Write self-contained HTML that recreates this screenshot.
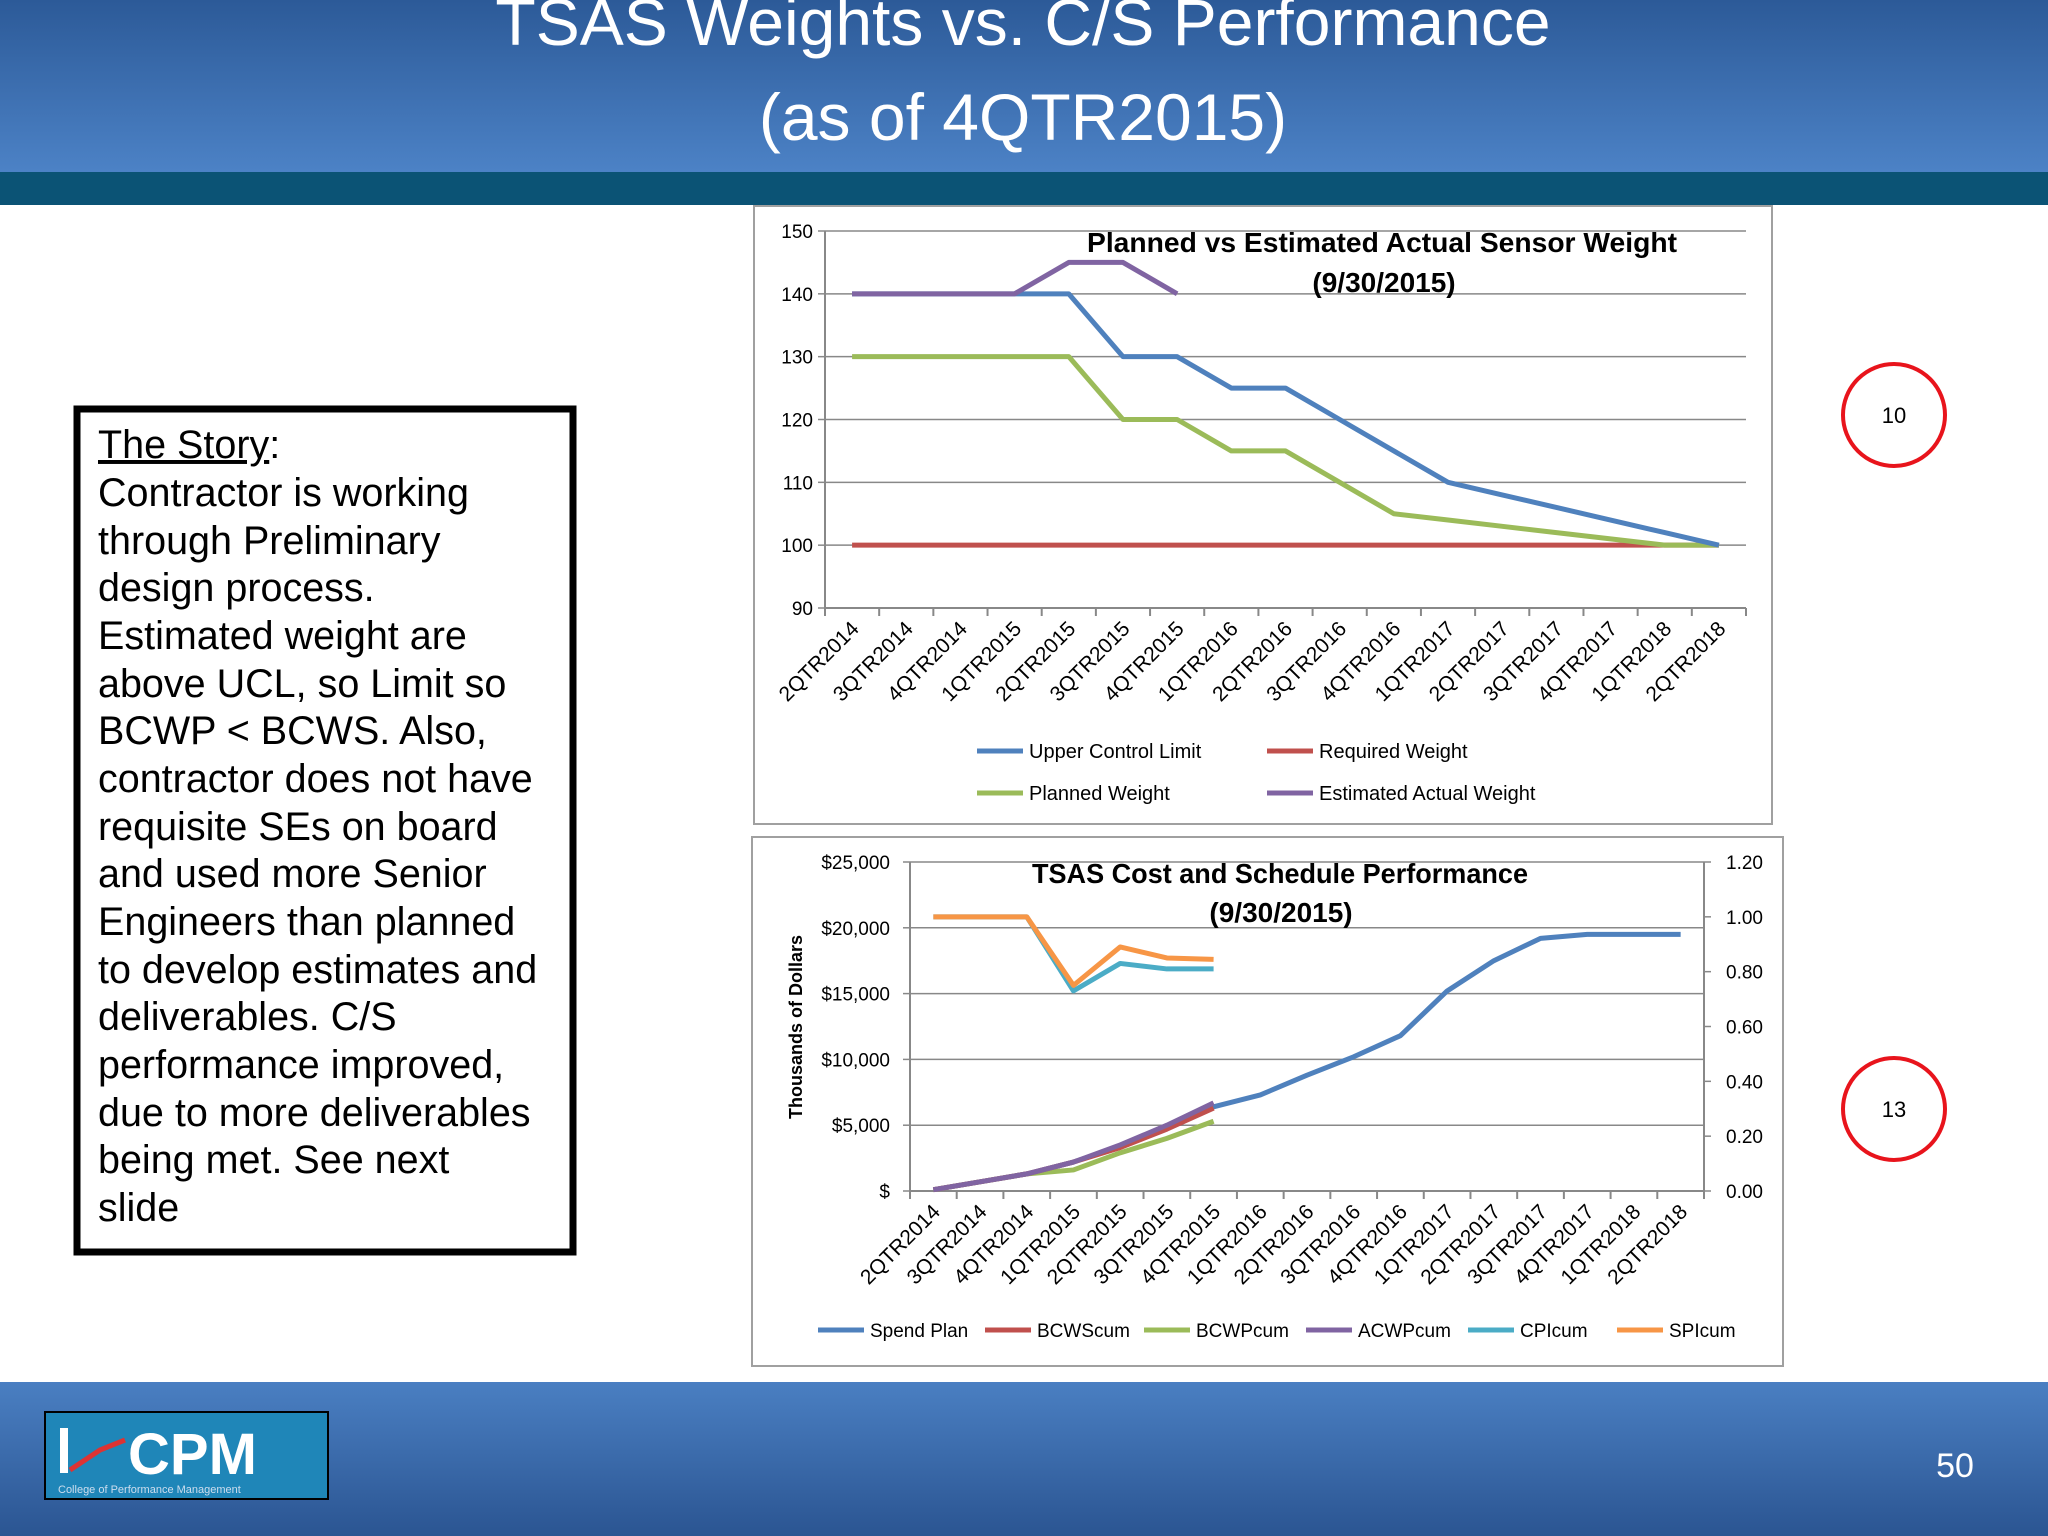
<!DOCTYPE html>
<html><head><meta charset="utf-8"><style>
html,body{margin:0;padding:0;width:2048px;height:1536px;overflow:hidden;background:#fff;font-family:"Liberation Sans",sans-serif}
svg text{font-family:"Liberation Sans",sans-serif}
</style></head><body>
<svg id="s" width="2048" height="1536" viewBox="0 0 2048 1536" xmlns="http://www.w3.org/2000/svg">
<defs>
<linearGradient id="hg" x1="0" y1="0" x2="0" y2="1"><stop offset="0" stop-color="#2c5a98"/><stop offset="1" stop-color="#4c82c6"/></linearGradient>
<linearGradient id="fg" x1="0" y1="0" x2="0" y2="1"><stop offset="0" stop-color="#4a7fc2"/><stop offset="1" stop-color="#2b5592"/></linearGradient>
</defs>
<rect x="0" y="0" width="2048" height="172" fill="url(#hg)"/>
<rect x="0" y="172" width="2048" height="33" fill="#0b5375"/>
<text x="1023" y="45" font-size="66" fill="#fff" text-anchor="middle">TSAS Weights vs. C/S Performance</text>
<text x="1023" y="140" font-size="66" fill="#fff" text-anchor="middle">(as of 4QTR2015)</text>

<rect x="77" y="409" width="496" height="843" fill="#fff" stroke="#000" stroke-width="7"/>
<g font-size="39.5" fill="#000">
<text x="98" y="458"><tspan text-decoration="underline">The Story</tspan>:</text>
<text x="98" y="506">Contractor is working</text>
<text x="98" y="554">through Preliminary</text>
<text x="98" y="601">design process.</text>
<text x="98" y="649">Estimated weight are</text>
<text x="98" y="697">above UCL, so Limit so</text>
<text x="98" y="744">BCWP &lt; BCWS. Also,</text>
<text x="98" y="792">contractor does not have</text>
<text x="98" y="840">requisite SEs on board</text>
<text x="98" y="887">and used more Senior</text>
<text x="98" y="935">Engineers than planned</text>
<text x="98" y="983">to develop estimates and</text>
<text x="98" y="1030">deliverables. C/S</text>
<text x="98" y="1078">performance improved,</text>
<text x="98" y="1126">due to more deliverables</text>
<text x="98" y="1173">being met.  See next</text>
<text x="98" y="1221">slide</text>
</g>

<circle cx="1894" cy="415" r="51" fill="#fff" stroke="#e8141c" stroke-width="4"/>
<text x="1894" y="423" font-size="22" text-anchor="middle">10</text>
<circle cx="1894" cy="1109" r="51" fill="#fff" stroke="#e8141c" stroke-width="4"/>
<text x="1894" y="1117" font-size="22" text-anchor="middle">13</text>

<rect x="0" y="1382" width="2048" height="154" fill="url(#fg)"/>
<g>
<rect x="45" y="1412" width="283" height="87" fill="#1f86b8" stroke="#000" stroke-width="2"/>
<rect x="60" y="1428" width="8" height="45" fill="#fff"/>
<path d="M70 1470 L100 1450 L125 1440" stroke="#d33" stroke-width="5" fill="none"/>
<text x="128" y="1474" font-size="58" font-weight="bold" fill="#fff">CPM</text>
<text x="58" y="1493" font-size="11" fill="#cde">College of Performance Management</text>
</g>
<text x="1955" y="1477" font-size="34" fill="#fff" text-anchor="middle">50</text>

<g id="c1"></g>
<g id="c2"></g>
</svg>
<script>
const cats=["2QTR2014","3QTR2014","4QTR2014","1QTR2015","2QTR2015","3QTR2015","4QTR2015","1QTR2016","2QTR2016","3QTR2016","4QTR2016","1QTR2017","2QTR2017","3QTR2017","4QTR2017","1QTR2018","2QTR2018"];
const ucl=[140,140,140,140,140,130,130,125,125,120,115,110,108,106,104,102,100];
const planned=[130,130,130,130,130,120,120,115,115,110,105,104,103,102,101,100,100];
const required=[100,100,100,100,100,100,100,100,100,100,100,100,100,100,100,100,100];
const estActual=[140,140,140,140,145,145,140];
const wTicks=[90,100,110,120,130,140,150];
const spend=[100,700,1300,2200,3400,4900,6400,7300,8800,10200,11800,15200,17500,19200,19500,19500,19500];
const bcws=[100,700,1300,2200,3300,4700,6300];
const bcwp=[100,700,1300,1600,2900,4000,5300];
const acwp=[100,700,1300,2200,3500,5000,6700];
const cpi=[1.0,1.0,1.0,0.73,0.83,0.81,0.81];
const spi=[1.0,1.0,1.0,0.75,0.89,0.85,0.845];
const dTicks=[0,5000,10000,15000,20000,25000];
const dLabels=["$","$5,000","$10,000","$15,000","$20,000","$25,000"];
const rTicks=[0,0.2,0.4,0.6,0.8,1.0,1.2];

const NS="http://www.w3.org/2000/svg";
function mk(p,t,a){const e=document.createElementNS(NS,t);for(const k in a)e.setAttribute(k,a[k]);p.appendChild(e);return e;}
function chart(g,box,pl,yMin,yMax){
  mk(g,'rect',{x:box[0],y:box[1],width:box[2],height:box[3],fill:'#fff',stroke:'#a0a0a0','stroke-width':2});
  const bw=(pl.r-pl.l)/cats.length;
  return {x:i=>pl.l+bw*(i+0.5),y:v=>pl.b-(v-yMin)/(yMax-yMin)*(pl.b-pl.t),bw};
}
function line(g,vals,xf,yf,col,name){
  const p=mk(g,'polyline',{points:vals.map((v,i)=>xf(i)+','+yf(v)).join(' '),fill:'none',stroke:col,'stroke-width':5,'stroke-linejoin':'round'});
  
  
}
function catAxis(g,pl,xf,bw,fs){
  mk(g,'line',{x1:pl.l,y1:pl.b,x2:pl.r,y2:pl.b,stroke:'#888','stroke-width':2});
  for(let i=0;i<=cats.length;i++){const x=pl.l+bw*i;mk(g,'line',{x1:x,y1:pl.b,x2:x,y2:pl.b+8,stroke:'#888','stroke-width':2});}
  cats.forEach((c,i)=>{const x=xf(i)+8,y=pl.b+22;
    const t=mk(g,'text',{x:x,y:y,'font-size':fs,'text-anchor':'end',transform:`rotate(-45 ${x} ${y})`,fill:'#000'});t.textContent=c;
    
    });
}
function legend(g,items,fs){
  items.forEach(it=>{mk(g,'line',{x1:it[0],y1:it[1],x2:it[0]+46,y2:it[1],stroke:it[2],'stroke-width':5});
    const t=mk(g,'text',{x:it[0]+52,y:it[1]+7,'font-size':fs,fill:'#000'});t.textContent=it[3];
    
    });
}
// Chart 1
const g1=document.getElementById('c1');


const p1={l:825,r:1746,t:231,b:608};
const a1=chart(g1,[754,206,1018,618],p1,90,150);
wTicks.forEach(v=>{const y=a1.y(v);
  if(v>90)mk(g1,'line',{x1:p1.l,y1:y,x2:p1.r,y2:y,stroke:'#888','stroke-width':1.5});
  mk(g1,'line',{x1:p1.l-7,y1:y,x2:p1.l,y2:y,stroke:'#888','stroke-width':1.5});
  const t=mk(g1,'text',{x:p1.l-12,y:y+7,'font-size':19,'text-anchor':'end'});t.textContent=v;
  
  });
mk(g1,'line',{x1:p1.l,y1:p1.t,x2:p1.l,y2:p1.b,stroke:'#888','stroke-width':2});
catAxis(g1,p1,a1.x,a1.bw,21);
line(g1,required,a1.x,a1.y,'#c0504d','required-weight-line');
line(g1,planned,a1.x,a1.y,'#9bbb59','planned-weight-line');
line(g1,ucl,a1.x,a1.y,'#4f81bd','ucl-line');
line(g1,estActual,a1.x,a1.y,'#8064a2','estimated-actual-line');
let t=mk(g1,'text',{x:1382,y:252,'font-size':28,'font-weight':'bold','text-anchor':'middle',textLength:590,lengthAdjust:'spacingAndGlyphs'});t.textContent='Planned vs Estimated Actual Sensor Weight';


t=mk(g1,'text',{x:1384,y:292,'font-size':28,'font-weight':'bold','text-anchor':'middle'});t.textContent='(9/30/2015)';


legend(g1,[[977,751,'#4f81bd','Upper Control Limit'],[1267,751,'#c0504d','Required Weight'],[977,793,'#9bbb59','Planned Weight'],[1267,793,'#8064a2','Estimated Actual Weight']],20);

// Chart 2
const g2=document.getElementById('c2');


const p2={l:910,r:1704,t:862,b:1191};
const a2=chart(g2,[752,837,1031,529],p2,0,25000);
const yr=v=>p2.b-v/1.2*(p2.b-p2.t);
dTicks.forEach((v,i)=>{const y=a2.y(v);
  if(v>0)mk(g2,'line',{x1:p2.l,y1:y,x2:p2.r,y2:y,stroke:'#888','stroke-width':1.5});
  mk(g2,'line',{x1:p2.l-7,y1:y,x2:p2.l,y2:y,stroke:'#888','stroke-width':1.5});
  const t=mk(g2,'text',{x:p2.l-20,y:y+7,'font-size':19,'text-anchor':'end'});t.textContent=dLabels[i];
  
  });
rTicks.forEach(v=>{const y=yr(v);
  mk(g2,'line',{x1:p2.r,y1:y,x2:p2.r+7,y2:y,stroke:'#888','stroke-width':1.5});
  const t=mk(g2,'text',{x:p2.r+22,y:y+7,'font-size':19});t.textContent=v.toFixed(2);
  
  });
mk(g2,'line',{x1:p2.l,y1:p2.t,x2:p2.l,y2:p2.b,stroke:'#888','stroke-width':2});
mk(g2,'line',{x1:p2.r,y1:p2.t,x2:p2.r,y2:p2.b,stroke:'#888','stroke-width':2});
catAxis(g2,p2,a2.x,a2.bw,21);
line(g2,spend,a2.x,a2.y,'#4f81bd','spend-plan-line');
line(g2,bcwp,a2.x,a2.y,'#9bbb59','bcwp-line');
line(g2,bcws,a2.x,a2.y,'#c0504d','bcws-line');
line(g2,acwp,a2.x,a2.y,'#8064a2','acwp-line');
line(g2,cpi,a2.x,yr,'#4bacc6','cpi-line');
line(g2,spi,a2.x,yr,'#f79646','spi-line');
t=mk(g2,'text',{x:1280,y:883,'font-size':28,'font-weight':'bold','text-anchor':'middle',textLength:496,lengthAdjust:'spacingAndGlyphs'});t.textContent='TSAS Cost and Schedule Performance';


t=mk(g2,'text',{x:1281,y:922,'font-size':28,'font-weight':'bold','text-anchor':'middle'});t.textContent='(9/30/2015)';


t=mk(g2,'text',{x:802,y:1027,'font-size':18,'font-weight':'bold','text-anchor':'middle',transform:'rotate(-90 802 1027)'});t.textContent='Thousands  of Dollars';


legend(g2,[[818,1330,'#4f81bd','Spend Plan'],[985,1330,'#c0504d','BCWScum'],[1144,1330,'#9bbb59','BCWPcum'],[1306,1330,'#8064a2','ACWPcum'],[1468,1330,'#4bacc6','CPIcum'],[1617,1330,'#f79646','SPIcum']],19);
</script>
</body></html>
